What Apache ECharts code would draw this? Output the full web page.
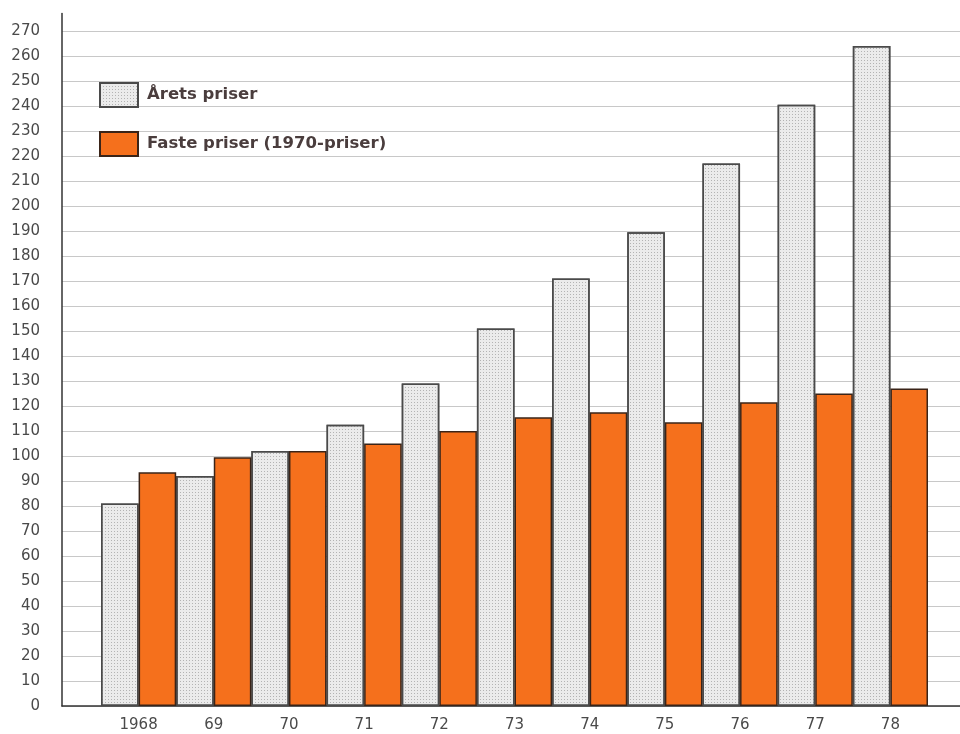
<!DOCTYPE html>
<html>
<head>
<meta charset="utf-8">
<script src="https://cdn.jsdelivr.net/npm/echarts@6/dist/echarts.min.js"></script>
<style>
  html, body { margin: 0; padding: 0; background: #ffffff; }
  #chart { width: 960px; height: 734px; }
</style>
</head>
<body>
<div id="chart"></div>
<script>
// years on the x axis
const years = ['1968', '69', '70', '71', '72', '73', '74', '75', '76', '77', '78']
// index values
const aretsPriser = [81, 92, 102, 112.5, 129, 151, 171, 189.5, 217, 240.5, 264]
const fastePriser = [93.5, 99.5, 102, 105, 110, 115.5, 117.5, 113.5, 121.5, 125, 127]
const seriesNames = ['Årets priser', 'Faste priser (1970-priser)']

const chartDom = document.getElementById('chart')
const myChart = echarts.init(chartDom)

// light gray grid lines, the last one (top of axis) hidden
const gridColors = []
for (let i = 0; i <= 27; i++) gridColors.push('#c8c8c8')
gridColors.push('rgba(0,0,0,0)')

const option = {
  animation: false,
  backgroundColor: '#ffffff',
  textStyle: { fontFamily: 'DejaVu Sans' },
  legend: {
    orient: 'vertical',
    left: 99,
    top: 82,
    padding: 0,
    itemWidth: 38,
    itemHeight: 24,
    itemGap: 23,
    icon: 'rect',
    textStyle: {
      fontSize: 16.5,
      fontWeight: 'bold',
      color: '#4a3d3d',
      fontFamily: 'DejaVu Sans',
      padding: [0, 0, 0, 4]
    },
    data: seriesNames
  },
  grid: [
    { left: 62, right: 0, top: 13.5, bottom: 28 },
    { left: 101, right: 32, top: 13.5, bottom: 28 }
  ],
  xAxis: [
    {
      gridIndex: 0,
      type: 'value',
      min: 0,
      max: 1,
      axisLine: { show: true, onZero: false, lineStyle: { color: '#333', width: 1.5 } },
      axisTick: { show: false },
      axisLabel: { show: false },
      splitLine: { show: false }
    },
    {
      gridIndex: 1,
      type: 'category',
      data: years,
      axisLine: { show: false },
      axisTick: { show: false },
      axisLabel: { color: '#4a4a4a', fontSize: 15, margin: 12 }
    }
  ],
  yAxis: [
    {
      gridIndex: 0,
      type: 'value',
      min: 0,
      max: 277,
      interval: 10,
      axisLine: { show: true, lineStyle: { color: '#333', width: 1.5 } },
      axisTick: { show: false },
      axisLabel: { color: '#4a4a4a', fontSize: 15, margin: 22, showMaxLabel: false },
      splitLine: { show: true, lineStyle: { color: gridColors, width: 1 } }
    },
    {
      gridIndex: 1,
      type: 'value',
      min: 0,
      max: 277,
      show: false,
      splitLine: { show: false }
    }
  ],
  series: [
    {
      name: seriesNames[0],
      type: 'bar',
      xAxisIndex: 1,
      yAxisIndex: 1,
      barGap: '0%',
      barCategoryGap: '0%',
      itemStyle: {
        color: '#ebebeb',
        borderColor: '#4a4a4a',
        borderWidth: 1.5,
        decal: {
          symbol: 'rect',
          symbolSize: 1,
          color: 'rgba(110,110,110,0.45)',
          dashArrayX: [1, 2],
          dashArrayY: [1, 2],
          rotation: 0
        }
      },
      data: aretsPriser
    },
    {
      name: seriesNames[1],
      type: 'bar',
      xAxisIndex: 1,
      yAxisIndex: 1,
      barGap: '0%',
      barCategoryGap: '0%',
      itemStyle: {
        color: '#f5701c',
        borderColor: '#3a2418',
        borderWidth: 1.5
      },
      data: fastePriser
    }
  ]
}

option && myChart.setOption(option)
</script>
</body>
</html>
